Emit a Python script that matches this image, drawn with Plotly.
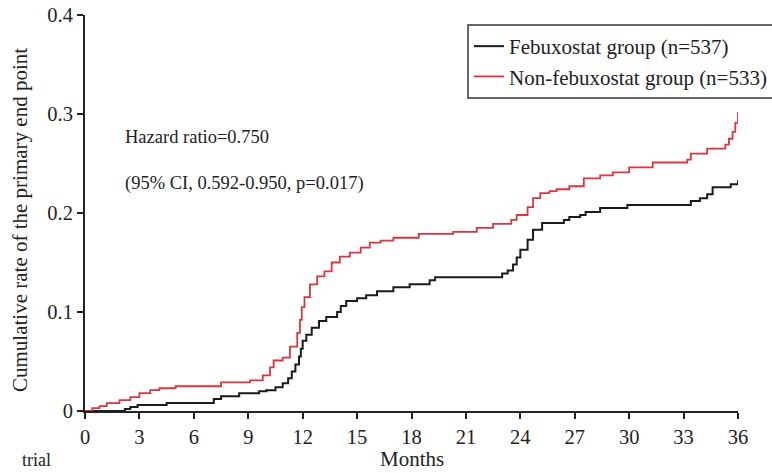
import plotly.graph_objects as go

# Febuxostat group (black)
feb_months = [0, 2.2, 2.5, 2.9, 4.5, 7.1, 7.5, 8.5, 9.6, 10.0,
              10.5, 10.9, 11.2, 11.4, 11.6, 11.8, 11.9, 12.0, 12.2, 12.5,
              12.9, 13.3, 13.9, 14.1, 14.4, 15.0, 15.5, 16.1, 17.0, 17.9,
              19.0, 19.3, 23.0, 23.3, 23.6, 23.8, 24.0, 24.4, 24.7, 25.2,
              26.4, 26.7, 27.3, 27.6, 28.4, 29.9, 33.4, 33.9, 34.3, 34.6,
              35.6, 36.0]
feb_rate = [0, 0.002, 0.004, 0.006, 0.008, 0.012, 0.015, 0.018, 0.020, 0.021,
            0.024, 0.028, 0.033, 0.040, 0.047, 0.055, 0.063, 0.071, 0.077, 0.084,
            0.091, 0.095, 0.100, 0.106, 0.111, 0.114, 0.117, 0.121, 0.125, 0.128,
            0.132, 0.135, 0.139, 0.142, 0.148, 0.155, 0.163, 0.173, 0.183, 0.190,
            0.193, 0.196, 0.198, 0.201, 0.205, 0.208, 0.212, 0.215, 0.219, 0.226,
            0.229, 0.233]

# Non-febuxostat group (red)
non_months = [0, 0.4, 0.8, 1.2, 1.9, 2.5, 3.0, 3.6, 4.1, 5.0,
              7.5, 9.1, 9.8, 10.2, 10.4, 10.9, 11.3, 11.7, 11.85, 11.95,
              12.1, 12.4, 12.8, 13.2, 13.6, 14.05, 14.6, 15.2, 15.7, 16.3,
              17.0, 18.4, 20.3, 21.6, 22.5, 23.5, 23.8, 24.4, 24.7, 25.1,
              25.6, 26.0, 26.7, 27.5, 28.4, 29.1, 30.0, 31.3, 33.2, 33.4,
              34.3, 35.3, 35.5, 35.7, 35.85, 36.0]
non_rate = [0, 0.003, 0.005, 0.008, 0.011, 0.014, 0.018, 0.021, 0.023, 0.025,
            0.029, 0.031, 0.036, 0.044, 0.051, 0.054, 0.065, 0.079, 0.092, 0.105,
            0.115, 0.128, 0.136, 0.141, 0.150, 0.156, 0.160, 0.165, 0.170, 0.172,
            0.175, 0.179, 0.181, 0.185, 0.189, 0.193, 0.198, 0.206, 0.215, 0.220,
            0.222, 0.224, 0.227, 0.235, 0.238, 0.241, 0.246, 0.251, 0.254, 0.260,
            0.265, 0.269, 0.275, 0.282, 0.291, 0.302]

x_ticks = list(range(0, 37, 3))
y_ticks = [0, 0.1, 0.2, 0.3, 0.4]
y_tick_labels = ["0", "0.1", "0.2", "0.3", "0.4"]

FONT = "Liberation Serif"
TXT = "#222222"

W, H = 772, 473
ML, MR, MT, MB = 85, 34, 15, 62
plot_w = W - ML - MR
plot_h = H - MT - MB


def px_x(px):
    return (px - ML) / plot_w


def px_y(py):
    return (H - MB - py) / plot_h


fig = go.Figure()
fig.add_trace(go.Scatter(x=feb_months, y=feb_rate, mode="lines",
                         line=dict(color="#1a1a1a", width=2, shape="hv"),
                         name="Febuxostat group (n=537)", cliponaxis=False))
fig.add_trace(go.Scatter(x=non_months, y=non_rate, mode="lines",
                         line=dict(color="#d9363e", width=1.8, shape="hv"),
                         name="Non-febuxostat group (n=533)", cliponaxis=False))

fig.update_layout(
    width=W, height=H,
    margin=dict(l=ML, r=MR, t=MT, b=MB, autoexpand=False),
    paper_bgcolor="white", plot_bgcolor="white",
    font=dict(family=FONT, size=20, color=TXT),
    showlegend=True,
    legend=dict(x=px_x(467), y=px_y(24), xanchor="left", yanchor="top",
                bgcolor="white", bordercolor="#666666", borderwidth=2,
                font=dict(family=FONT, size=21, color=TXT),
                itemwidth=30, tracegroupgap=0),
    xaxis=dict(range=[0, 36], tickvals=x_ticks, ticks="outside", ticklen=6,
               tickwidth=2, tickcolor="#222", showline=True, linecolor="#222",
               linewidth=2, showgrid=False, zeroline=False, automargin=False,
               tickfont=dict(family=FONT, size=20.5, color=TXT)),
    yaxis=dict(range=[0, 0.4], tickvals=y_ticks, ticktext=y_tick_labels,
               ticks="outside", ticklen=6, tickwidth=2, tickcolor="#222",
               showline=True, linecolor="#222", linewidth=2, showgrid=False,
               zeroline=False, automargin=False,
               tickfont=dict(family=FONT, size=20.5, color=TXT)),
    annotations=[
        dict(text="Cumulative rate of the primary end point", x=px_x(20), y=px_y(220),
             xref="paper", yref="paper", xanchor="center", yanchor="middle",
             textangle=-90, showarrow=False,
             font=dict(family=FONT, size=21, color=TXT)),
        dict(text="Months", x=px_x(412), y=px_y(459), xref="paper", yref="paper",
             xanchor="center", yanchor="middle", showarrow=False,
             font=dict(family=FONT, size=21, color=TXT)),
        dict(text="Hazard ratio=0.750", x=2.1, y=0.277, xref="x", yref="y",
             xanchor="left", yanchor="middle", showarrow=False,
             font=dict(family=FONT, size=18.5, color=TXT)),
        dict(text="(95% CI, 0.592-0.950, p=0.017)", x=2.1, y=0.230, xref="x", yref="y",
             xanchor="left", yanchor="middle", showarrow=False,
             font=dict(family=FONT, size=18.5, color=TXT)),
        dict(text="trial", x=px_x(20), y=px_y(472), xref="paper", yref="paper",
             xanchor="left", yanchor="bottom", showarrow=False,
             font=dict(family=FONT, size=18, color=TXT)),
    ],
)

fig.write_html("out.html", config={"displayModeBar": False},
               post_script="document.body.style.margin='0';")
